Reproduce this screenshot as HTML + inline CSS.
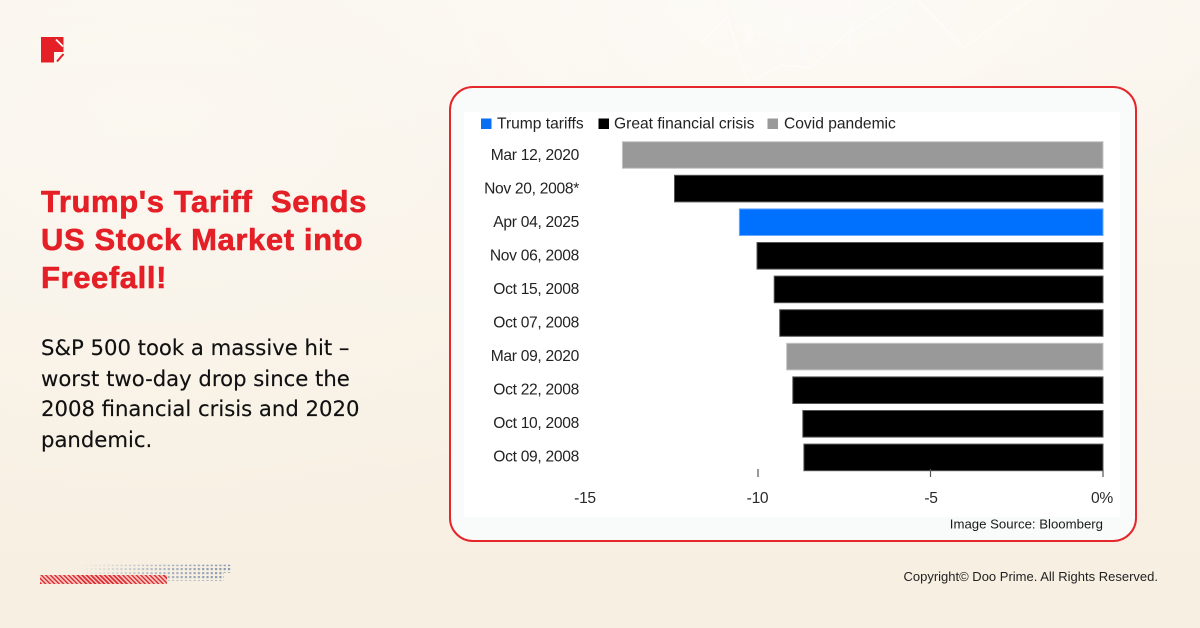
<!DOCTYPE html>
<html>
<head>
<meta charset="utf-8">
<style>
  html,body{margin:0;padding:0;}
  body{width:1200px;height:628px;overflow:hidden;position:relative;
    background:
      radial-gradient(ellipse 520px 260px at 820px 0px, rgba(255,255,255,0.55), rgba(255,255,255,0) 100%),
      radial-gradient(ellipse 700px 420px at 150px 120px, rgba(255,255,255,0.35), rgba(255,255,255,0) 100%),
      linear-gradient(180deg,#faf5ec 0%,#f8f1e5 55%,#f7efe1 100%);
    font-family:"Liberation Sans",sans-serif;}
  .abs{position:absolute;}
  .title{left:41px;top:183px;color:#e41f26;font-weight:bold;font-size:31px;line-height:38px;letter-spacing:0.6px;white-space:nowrap;-webkit-text-stroke:0.6px #e41f26;}
  .body{left:41px;top:333px;color:#111;font-family:"DejaVu Sans","Liberation Sans",sans-serif;font-size:21.2px;line-height:30.5px;white-space:nowrap;-webkit-text-stroke:0.15px #111;}
  .card{left:449px;top:86px;width:684px;height:452px;border:2px solid #e5262b;border-radius:24px;background:#f9fbfb;}
  .img{left:464px;top:112px;width:656px;height:405px;background:#ffffff;}
  .copy{right:42px;top:569px;font-size:13px;color:#222;white-space:nowrap;}
  .hatch{left:40px;top:575px;width:127px;height:9px;background:repeating-linear-gradient(45deg,#df3036 0 1.6px,#f3c7bf 1.6px 3.2px);}
</style>
</head>
<body>
<!-- faint background chart lines at top -->
<svg class="abs" style="left:0;top:0" width="1200" height="628">
  <g stroke="#ffffff" fill="none" stroke-width="1.5" opacity="0.55">
    <polyline points="700,45 727,17 748,83 782,65 810,68 845,35 900,0"/>
    <polyline points="918,0 963,48 1030,0"/>
  </g>
  <g stroke="#ffffff" fill="none" stroke-width="0.6" opacity="0.3">
    <line x1="700" y1="28" x2="900" y2="28"/>
    <line x1="700" y1="55" x2="900" y2="55"/>
    <line x1="850" y1="0" x2="850" y2="85"/>
    <line x1="780" y1="0" x2="780" y2="85"/>
  </g>
  <g fill="#ffffff" opacity="0.25">
    <rect x="745" y="25" width="8" height="20"/>
    <rect x="785" y="17" width="8" height="20"/>
    <rect x="800" y="40" width="7" height="22"/>
    <rect x="847" y="20" width="7" height="30"/>
  </g>
</svg>

<!-- logo -->
<svg class="abs" style="left:0;top:0" width="100" height="80">
  <path d="M41,37 H63.5 V52 H54 V62.5 H41 Z" fill="#e41f26"/>
  <line x1="56" y1="39.5" x2="63" y2="46.5" stroke="#ffffff" stroke-width="1.8"/>
  <line x1="57" y1="61.5" x2="63.5" y2="54" stroke="#e41f26" stroke-width="2"/>
</svg>

<div class="abs title">Trump's Tariff&nbsp; Sends<br>US Stock Market into<br>Freefall!</div>
<div class="abs body">S&amp;P 500 took a massive hit –<br>worst two-day drop since the<br>2008 financial crisis and 2020<br>pandemic.</div>

<div class="abs card"></div>
<div class="abs img"></div>

<svg class="abs" style="left:0;top:0" width="1200" height="628">
  <defs>
    <pattern id="dots" x="0" y="0" width="4.3" height="4" patternUnits="userSpaceOnUse">
      <rect x="0" y="0" width="2.2" height="2.2" fill="#8597b0"/>
    </pattern>
    <linearGradient id="fade" x1="78" y1="0" x2="231" y2="0" gradientUnits="userSpaceOnUse">
      <stop offset="0" stop-color="#fff" stop-opacity="0"/>
      <stop offset="0.6" stop-color="#fff" stop-opacity="0.7"/>
      <stop offset="1" stop-color="#fff" stop-opacity="1"/>
    </linearGradient>
    <mask id="fm" maskUnits="userSpaceOnUse" x="0" y="550" width="260" height="40">
      <rect x="70" y="555" width="170" height="30" fill="url(#fade)"/>
    </mask>
  </defs>
  <g mask="url(#fm)">
    <rect x="78" y="564.7" width="154" height="8" fill="url(#dots)"/>
    <rect x="78" y="572.7" width="146" height="8" fill="url(#dots)"/>
  </g>

  <!-- legend -->
  <g font-family="Liberation Sans, sans-serif" font-size="15.6" fill="#222">
    <rect x="481" y="118.5" width="10.5" height="10.5" fill="#0a6ef5"/>
    <text x="497" y="128.5">Trump tariffs</text>
    <rect x="598.5" y="118.5" width="10.5" height="10.5" fill="#000"/>
    <text x="614" y="128.5">Great financial crisis</text>
    <rect x="767.5" y="118.5" width="10.5" height="10.5" fill="#999"/>
    <text x="784" y="128.5">Covid pandemic</text>
  </g>

  <!-- y labels -->
  <g font-family="Liberation Sans, sans-serif" font-size="15.6" fill="#222" text-anchor="end" letter-spacing="-0.3">
    <text x="579" y="160">Mar 12, 2020</text>
    <text x="579" y="193.5">Nov 20, 2008*</text>
    <text x="579" y="227">Apr 04, 2025</text>
    <text x="579" y="260.5">Nov 06, 2008</text>
    <text x="579" y="294">Oct 15, 2008</text>
    <text x="579" y="327.5">Oct 07, 2008</text>
    <text x="579" y="361">Mar 09, 2020</text>
    <text x="579" y="394.5">Oct 22, 2008</text>
    <text x="579" y="428">Oct 10, 2008</text>
    <text x="579" y="461.5">Oct 09, 2008</text>
  </g>

  <!-- bars -->
  <g stroke-width="1">
    <rect x="622.4" y="141.7" width="480.6" height="26.6" fill="#999999" stroke="#c4c4c4"/>
    <rect x="674.5" y="175.3" width="428.5" height="26.6" fill="#000" stroke="#555"/>
    <rect x="739.4" y="208.9" width="363.6" height="26.6" fill="#0070ff" stroke="#6aa8ff"/>
    <rect x="757" y="242.5" width="346" height="26.6" fill="#000" stroke="#555"/>
    <rect x="774.2" y="276.1" width="328.8" height="26.6" fill="#000" stroke="#555"/>
    <rect x="779.7" y="309.7" width="323.3" height="26.6" fill="#000" stroke="#555"/>
    <rect x="786.6" y="343.3" width="316.4" height="26.6" fill="#999999" stroke="#c4c4c4"/>
    <rect x="792.8" y="376.9" width="310.2" height="26.6" fill="#000" stroke="#555"/>
    <rect x="802.8" y="410.5" width="300.2" height="26.6" fill="#000" stroke="#555"/>
    <rect x="803.9" y="444.1" width="299.1" height="26.6" fill="#000" stroke="#555"/>
  </g>

  <!-- ticks -->
  <g stroke="#555" stroke-width="1.2">
    <line x1="758" y1="469" x2="758" y2="477"/>
    <line x1="930.5" y1="469" x2="930.5" y2="477"/>
    <line x1="1103" y1="469" x2="1103" y2="477"/>
  </g>
  <g font-family="Liberation Sans, sans-serif" font-size="15.6" fill="#2a2a2a" text-anchor="middle" letter-spacing="-0.3">
    <text x="585" y="503">-15</text>
    <text x="757.5" y="503">-10</text>
    <text x="931" y="503">-5</text>
    <text x="1102" y="503">0%</text>
  </g>

  <text x="1103" y="528.5" font-family="Liberation Sans, sans-serif" font-size="13.2" fill="#1a1a1a" text-anchor="end">Image Source: Bloomberg</text>
</svg>

<div class="abs hatch"></div>
<div class="abs copy">Copyright© Doo Prime. All Rights Reserved.</div>
</body>
</html>
